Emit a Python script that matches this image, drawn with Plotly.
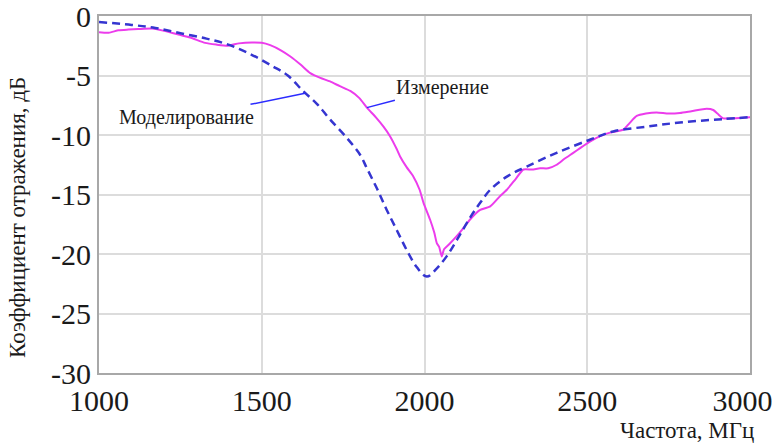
import plotly.graph_objects as go

# Measurement (magenta)
freq_meas = [1000, 1030, 1060, 1090, 1120, 1164, 1200, 1244, 1280, 1326, 1360, 1397, 1430, 1470,
             1500, 1526, 1560, 1588, 1620, 1649, 1680, 1710, 1740, 1772, 1800, 1823, 1850, 1874,
             1894, 1915, 1925, 1945, 1966, 1985, 1997, 2017, 2030, 2038, 2045, 2053, 2060, 2075,
             2099, 2120, 2140, 2171, 2202, 2230, 2253, 2280, 2304, 2330, 2355, 2380, 2406, 2430,
             2457, 2478, 2508, 2540, 2570, 2611, 2630, 2652, 2680, 2713, 2750, 2785, 2820, 2867,
             2887, 2900, 2918, 2950, 3000]
meas = [-1.36, -1.4, -1.2, -1.14, -1.1, -1.05, -1.25, -1.56, -1.8, -2.26, -2.4, -2.49, -2.3, -2.22,
        -2.25, -2.45, -2.9, -3.4, -4.1, -4.8, -5.2, -5.5, -5.9, -6.3, -6.9, -7.7, -8.5, -9.3,
        -10.1, -11.2, -11.8, -12.7, -13.5, -14.6, -15.7, -17.1, -18.2, -19.1, -19.4, -20.2, -19.6, -19.2,
        -18.5, -17.8, -17.1, -16.3, -16.0, -15.2, -14.6, -13.7, -12.9, -12.9, -12.8, -12.8, -12.5, -12.0,
        -11.5, -11.1, -10.55, -10.1, -9.8, -9.55, -9.0, -8.4, -8.2, -8.1, -8.2, -8.15, -8.0, -7.8,
        -7.9, -8.2, -8.6, -8.6, -8.5]

# Simulation (blue dashed)
freq_model = [1000, 1100, 1173, 1250, 1330, 1397, 1465, 1532, 1580, 1627, 1670, 1710, 1760, 1803,
              1823, 1854, 1884, 1915, 1946, 1976, 2007, 2038, 2068, 2100, 2141, 2171, 2202, 2253,
              2314, 2406, 2508, 2580, 2682, 2785, 2918, 3000]
model = [-0.5, -0.75, -1.0, -1.45, -1.9, -2.4, -3.2, -4.2, -5.0, -6.3, -7.4, -8.7, -10.2, -11.7,
         -12.8, -14.5, -16.3, -18.0, -19.7, -21.1, -21.9, -21.2, -20.2, -18.8, -16.9, -15.7, -14.6, -13.5,
         -12.65, -11.5, -10.4, -9.7, -9.3, -8.95, -8.66, -8.5]

x_ticks = [1000, 1500, 2000, 2500, 3000]
x_ticktext = ["1000", "1500", "2000", "2500", "3000\u2002"]
y_ticks = [0, -5, -10, -15, -20, -25, -30]
y_ticktext = ["0", "-5", "-10", "-15", "-20", "-25", "-30"]

serif = "Times New Roman, Liberation Serif, DejaVu Serif, serif"
txt = "#1a1a1a"

fig = go.Figure()
fig.add_trace(go.Scatter(x=freq_meas, y=meas, mode="lines", line_shape="spline",
                         line=dict(color="#ec3cec", width=2, smoothing=0.6), name="Измерение"))
fig.add_trace(go.Scatter(x=freq_model, y=model, mode="lines", line_shape="spline",
                         line=dict(color="#3535d0", width=2.5, dash="8px,5px"), name="Моделирование"))

fig.update_layout(
    width=780, height=444,
    margin=dict(l=99, r=30, t=16, b=71),
    plot_bgcolor="white", paper_bgcolor="white",
    showlegend=False,
    font=dict(family=serif, color=txt),
)
axis_common = dict(showgrid=True, gridcolor="#dcdcdc", gridwidth=1.5,
                   showline=True, linecolor="#a8a8a8", linewidth=2, mirror=True,
                   tickfont=dict(size=30, family=serif, color=txt), ticks="",
                   zeroline=False, ticklabeloverflow="allow", automargin=False)
fig.update_xaxes(range=[1000, 3000], tickvals=x_ticks, ticktext=x_ticktext, **axis_common)
fig.update_yaxes(range=[-30, 0], tickvals=y_ticks, ticktext=y_ticktext, **axis_common)

fig.add_annotation(x=1633, y=-6.5, xref="x", yref="y", text="Моделирование",
                   showarrow=True, arrowhead=0, arrowwidth=1.5, arrowcolor="#2b2bff",
                   ax=-119, ay=24, font=dict(size=20, family=serif, color=txt))
fig.add_annotation(x=1823, y=-7.7, xref="x", yref="y", text="Измерение",
                   showarrow=True, arrowhead=0, arrowwidth=1.5, arrowcolor="#2b2bff",
                   ax=76, ay=-20, font=dict(size=20, family=serif, color=txt))

fig.add_annotation(x=1, y=0, xref="paper", yref="paper", xanchor="right", yanchor="middle",
                   xshift=6, yshift=-57, text="Частота, МГц", showarrow=False,
                   font=dict(size=23, family=serif, color=txt))
fig.add_annotation(x=0, y=0.434, xref="paper", yref="paper", xanchor="center", yanchor="middle",
                   xshift=-82, text="Коэффициент отражения, дБ", textangle=-90, showarrow=False,
                   font=dict(size=23, family=serif, color=txt))

fig.write_html("out.html")
